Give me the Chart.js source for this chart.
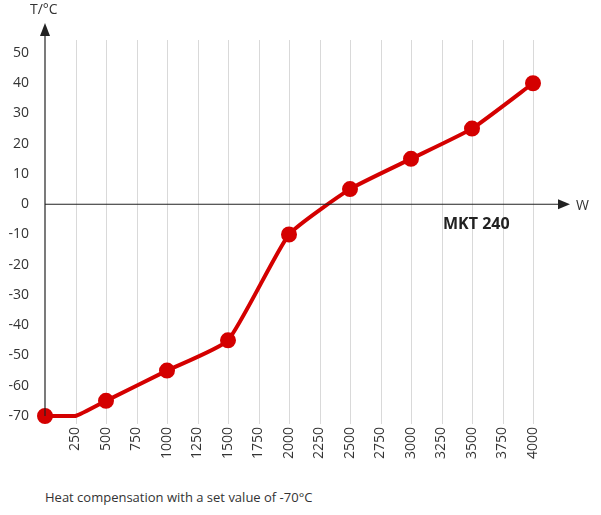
<!DOCTYPE html>
<html><head><meta charset="utf-8">
<script src="https://cdn.jsdelivr.net/npm/chart.js@4"></script>
<style>body{margin:0;background:#fff;font-family:"Open Sans",sans-serif}
#w{position:relative;width:601px;height:515px}
#cap{position:absolute;left:45px;top:488px;font-size:13px;color:#333}</style>
</head><body><div id="w"><canvas id="c" width="601" height="462"></canvas>
<div id="cap">Heat compensation with a set value of -70°C</div></div>
<script>
const powerW=[0,250,500,1000,1500,2000,2500,3000,3500,4000];
const tempC=[-70,-70,-65,-55,-45,-10,5,15,25,40];
const showDot=[1,0,1,1,1,1,1,1,1,1];
const axisPlugin={id:'ax',afterDatasetsDraw(ch){
 const {ctx,scales:{x,y}}=ch;const x0=x.getPixelForValue(0),y0=y.getPixelForValue(0);
 ctx.save();ctx.strokeStyle='#222';ctx.fillStyle='#222';ctx.lineWidth=1.2;
 ctx.beginPath();ctx.moveTo(x0,y.bottom);ctx.lineTo(x0,34);ctx.stroke();
 ctx.beginPath();ctx.moveTo(x0-5,36);ctx.lineTo(x0+5,36);ctx.lineTo(x0,23);ctx.fill();
 const xr=x.right+25;
 ctx.beginPath();ctx.moveTo(x0,y0);ctx.lineTo(xr,y0);ctx.stroke();
 ctx.beginPath();ctx.moveTo(xr,y0-5);ctx.lineTo(xr,y0+5);ctx.lineTo(xr+12,y0);ctx.fill();
 ctx.font='14px "Open Sans"';ctx.fillStyle='#333';ctx.textBaseline='middle';
 ctx.fillText('T/°C',x0-15,10);ctx.fillText('W',xr+18,y0+2);
 ctx.font='bold 16px "Open Sans"';ctx.fillStyle='#222';ctx.fillText('MKT 240',443,y0+20);
 ctx.restore();
},beforeDatasetsDraw(ch){
 const {ctx,scales:{x,y}}=ch;ctx.save();ctx.strokeStyle='#d9d9d9';ctx.lineWidth=1;
 for(let v=250;v<=4000;v+=250){const px=Math.round(x.getPixelForValue(v))+0.5;
  ctx.beginPath();ctx.moveTo(px,40);ctx.lineTo(px,y.bottom+8);ctx.stroke();}
 ctx.restore();}};
new Chart(document.getElementById('c'),{type:'line',
 data:{datasets:[{data:powerW.map((v,i)=>({x:v,y:tempC[i]})),borderColor:'#d40000',backgroundColor:'#d40000',
  borderWidth:4,tension:0.15,pointRadius:showDot.map(s=>s?6:0),pointHoverRadius:6}]},
 options:{responsive:false,animation:false,clip:false,
  layout:{padding:{top:53,right:68,left:0,bottom:0}},
  plugins:{legend:{display:false},tooltip:{enabled:false}},
  scales:{
   x:{type:'linear',min:0,max:4000,border:{display:false},grid:{display:false},
    ticks:{stepSize:250,autoSkip:false,minRotation:90,maxRotation:90,color:'#333',font:{size:14,family:'Open Sans'},
     callback:v=>v===0?'':String(v)}},
   y:{min:-70,max:50,border:{display:false},grid:{display:false},afterFit(s){s.width=45},
    ticks:{stepSize:10,color:'#333',font:{size:14,family:'Open Sans'},padding:8}}}},
 plugins:[axisPlugin]});
</script></body></html>
